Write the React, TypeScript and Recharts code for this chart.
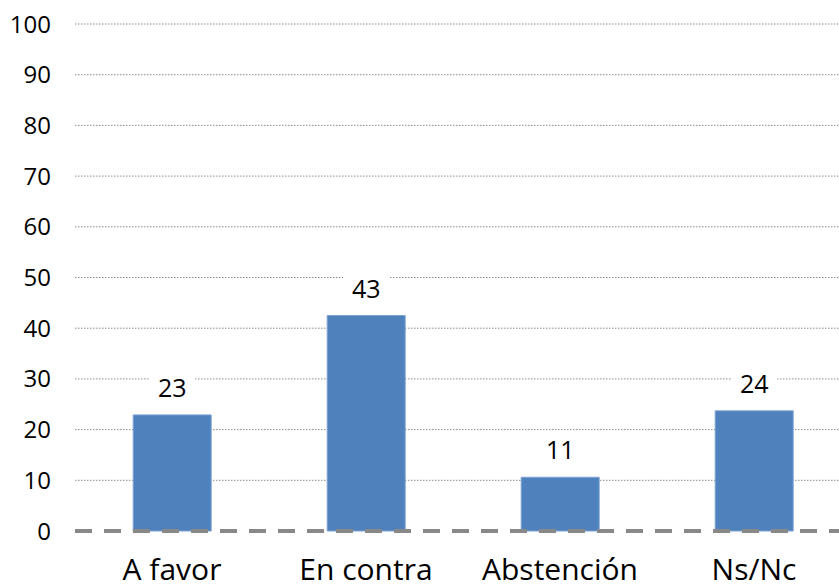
import React from "react";
import { BarChart, Bar, XAxis, YAxis, CartesianGrid, ReferenceLine, LabelList } from "recharts";

const categories = ["A favor", "En contra", "Abstención", "Ns/Nc"];
const values = [22.9, 42.5, 10.6, 23.7];
const labels = ["23", "43", "11", "24"];
const yTicks = [0, 10, 20, 30, 40, 50, 60, 70, 80, 90, 100];

const data = categories.map((c, i) => ({ name: c, value: values[i], label: labels[i] }));

const FONT = "'Open Sans', 'Noto Sans', sans-serif";

const ValueLabel = (props: any) => {
  const { x, y, width, value } = props;
  const cx = Number(x) + Number(width) / 2;
  const cy = Number(y) - 28;
  const w = String(value).length * 14 + 18;
  return (
    <g>
      <rect x={cx - w / 2} y={cy - 13} width={w} height={26} fill="#ffffff" />
      <text x={cx} y={cy} textAnchor="middle" dominantBaseline="central" fontSize={25} fill="#000" fontFamily={FONT}>
        {value}
      </text>
    </g>
  );
};

export default function App() {
  return (
    <div style={{ position: "absolute", left: 0, top: 0, width: 839, height: 585, overflow: "hidden", background: "#fff" }}>
      <BarChart
        width={851}
        height={585}
        data={data}
        margin={{ top: 24, right: 0, bottom: 0, left: 0 }}
        barCategoryGap="30%"
      >
        <CartesianGrid
          vertical={false}
          stroke="#8c8c8c"
          strokeDasharray="1.5 1.5"
          strokeWidth={1}
          horizontalValues={yTicks.filter((t) => t !== 0)}
        />
        <XAxis
          dataKey="name"
          axisLine={false}
          tickLine={false}
          tickSize={0}
          tickMargin={28}
          height={54}
          tick={{ fontSize: 30, fill: "#000", fontFamily: FONT }}
          interval={0}
        />
        <YAxis
          width={75}
          domain={[0, 100]}
          ticks={yTicks}
          axisLine={false}
          tickLine={false}
          tickSize={0}
          tickMargin={24}
          tick={{ fontSize: 24, fill: "#000", fontFamily: FONT }}
        />
        <Bar dataKey="value" fill="#4F81BD" stroke="#7EA3D2" strokeWidth={1} isAnimationActive={false}>
          <LabelList dataKey="label" content={ValueLabel} />
        </Bar>
        <ReferenceLine y={0} stroke="#888888" strokeWidth={4} strokeDasharray="17 12" />
      </BarChart>
    </div>
  );
}
